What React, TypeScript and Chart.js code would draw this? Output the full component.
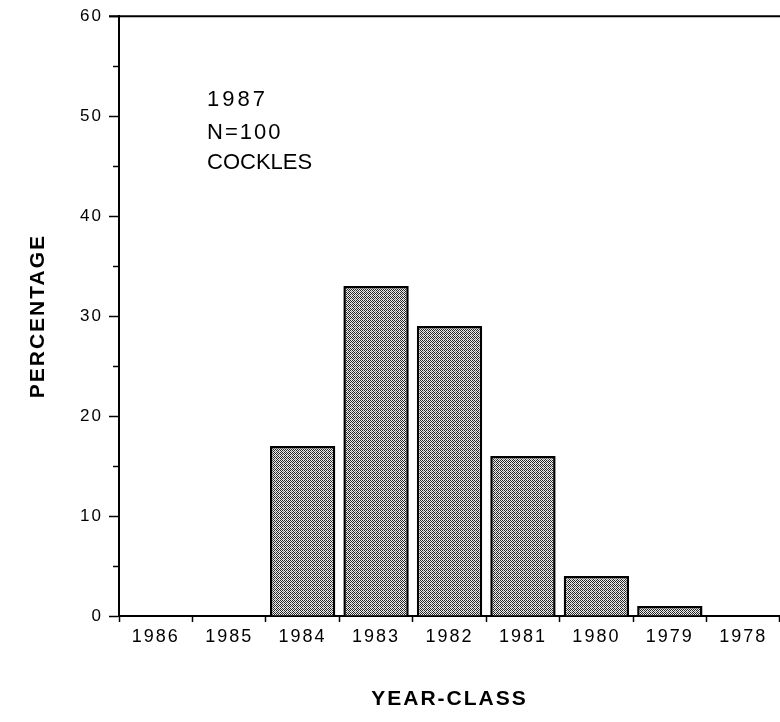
import React, { useEffect, useRef } from "react";
import { Chart, registerables } from "chart.js";

Chart.register(...registerables);

const categories = ["1986", "1985", "1984", "1983", "1982", "1981", "1980", "1979", "1978"];
const percentages = [0, 0, 17, 33, 29, 16, 4, 1, 0];
const yMin = 0;
const yMax = 60;
const yMajorStep = 10;
const yMinorTicks = [5, 15, 25, 35, 45, 55];
const annotationLines = ["1987", "N=100", "COCKLES"];
const annotationSpacing = ["3px", "2px", "0px"];
const yTitle = "PERCENTAGE";
const xTitle = "YEAR-CLASS";

const FONT = "'Liberation Sans', Arial, Helvetica, sans-serif";

function makePattern(): CanvasPattern | string {
  const c = document.createElement("canvas");
  c.width = 4;
  c.height = 4;
  const g = c.getContext("2d");
  if (!g) return "#999";
  g.fillStyle = "#ededed";
  g.fillRect(0, 0, 4, 4);
  g.fillStyle = "#262626";
  const dark = [
    [0, 0], [2, 0], [1, 1], [3, 1], [0, 2], [2, 2], [1, 3],
  ];
  dark.forEach(([x, y]) => g.fillRect(x, y, 1, 1));
  g.fillStyle = "#8a8a8a";
  g.fillRect(3, 3, 1, 1);
  const p = g.createPattern(c, "repeat");
  return p || "#999";
}

const decorPlugin = {
  id: "decor",
  beforeDraw(chart: any) {
    chart.ctx.letterSpacing = "2px";
  },
  afterDraw(chart: any) {
    const { ctx, chartArea, scales } = chart;
    const y = scales.y;
    ctx.save();
    ctx.strokeStyle = "#000";
    ctx.lineWidth = 2;
    ctx.beginPath();
    ctx.moveTo(chartArea.left - 10, chartArea.top);
    ctx.lineTo(chartArea.right, chartArea.top);
    ctx.stroke();
    ctx.lineWidth = 1.5;
    yMinorTicks.forEach((v) => {
      const py = Math.round(y.getPixelForValue(v)) + 0.5;
      ctx.beginPath();
      ctx.moveTo(chartArea.left - 6, py);
      ctx.lineTo(chartArea.left, py);
      ctx.stroke();
    });
    ctx.fillStyle = "#000";
    ctx.font = `22px ${FONT}`;
    ctx.textAlign = "left";
    ctx.textBaseline = "alphabetic";
    const x0 = chartArea.left + 88;
    const baselines = [90, 123, 153];
    annotationLines.forEach((t, i) => {
      ctx.letterSpacing = annotationSpacing[i];
      ctx.fillText(t, x0, chartArea.top + baselines[i]);
    });
    ctx.restore();
  },
};

export default function App() {
  const ref = useRef<HTMLCanvasElement | null>(null);

  useEffect(() => {
    document.body.style.margin = "0";
    const canvas = ref.current;
    if (!canvas) return;
    const pattern = makePattern();
    const chart = new Chart(canvas, {
      type: "bar",
      data: {
        labels: categories,
        datasets: [
          {
            data: percentages,
            backgroundColor: pattern as any,
            borderColor: "#000",
            borderWidth: (c: any) => (c.raw ? 2.5 : 0),
            borderSkipped: "bottom",
            categoryPercentage: 1,
            barPercentage: 0.89,
          },
        ],
      },
      options: {
        responsive: false,
        animation: false,
        layout: { padding: { top: 12, right: 0, left: 0, bottom: 0 } },
        plugins: {
          legend: { display: false },
          tooltip: { enabled: false },
          title: { display: false },
        },
        scales: {
          x: {
            offset: true,
            grid: {
              offset: true,
              drawOnChartArea: false,
              drawTicks: true,
              tickLength: 6,
              tickColor: "#000",
              tickWidth: 1.5,
            },
            border: { display: true, color: "#000", width: 2 },
            ticks: {
              color: "#000",
              font: { family: FONT, size: 18 },
              padding: 4,
              maxRotation: 0,
              autoSkip: false,
            },
            title: {
              display: true,
              text: xTitle,
              color: "#000",
              font: { family: FONT, size: 21, weight: "bold" },
              padding: { top: 0, bottom: 10 },
            },
            afterFit: (s: any) => {
              s.height = 106;
            },
          },
          y: {
            min: yMin,
            max: yMax,
            ticks: {
              stepSize: yMajorStep,
              color: "#000",
              font: { family: FONT, size: 17 },
              padding: 6,
            },
            grid: {
              drawOnChartArea: false,
              drawTicks: true,
              tickLength: 10,
              tickColor: "#000",
              tickWidth: 1.5,
            },
            border: { display: true, color: "#000", width: 2 },
            title: {
              display: true,
              text: yTitle,
              color: "#000",
              font: { family: FONT, size: 21, weight: "bold" },
              padding: { top: 26, bottom: 0 },
            },
            afterFit: (s: any) => {
              s.width = 119;
            },
          },
        },
      },
      plugins: [decorPlugin],
    });
    return () => chart.destroy();
  }, []);

  return (
    <div style={{ width: 780, height: 722, background: "#fff" }}>
      <canvas ref={ref} width={780} height={722} style={{ display: "block" }} />
    </div>
  );
}
